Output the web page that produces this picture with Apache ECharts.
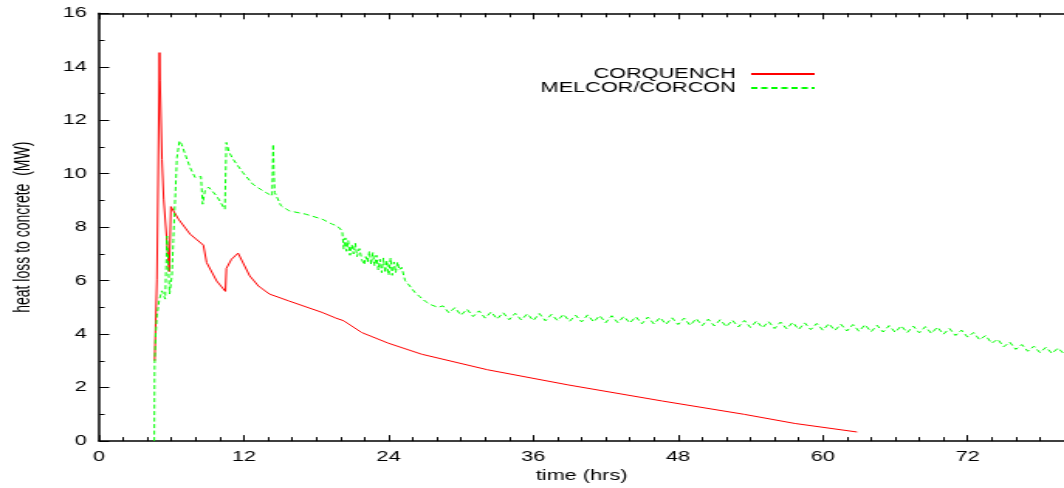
<!DOCTYPE html>
<html lang="en">
<head>
<meta charset="UTF-8">
<title>heat loss to concrete</title>
<script src="https://cdn.jsdelivr.net/npm/echarts@6/dist/echarts.min.js"></script>
<style>
    html, body { margin: 0; padding: 0; overflow: hidden; background: #fff; }
    /* the reference is a gnuplot picture stretched sideways, so draw narrow and stretch */
    #chart {
        width: 687px;
        height: 488px;
        transform: scaleX(1.5488);
        transform-origin: 0 0;
    }
</style>
</head>
<body>
<div id="chart"></div>
<script>
// time (hrs), heat loss (MW)
const corquench = [
    [4.60, 3.0], [4.79, 6.03], [4.91, 6.05], [5.01, 14.53], [5.05, 13.5], [5.21, 10.54],
    [5.35, 9.05], [5.81, 6.34], [5.95, 8.77], [6.58, 8.3], [7.54, 7.74], [8.64, 7.33],
    [8.91, 6.68], [9.74, 5.99], [10.47, 5.6], [10.55, 6.46], [10.97, 6.8], [11.52, 7.03],
    [12.48, 6.18], [13.21, 5.8], [14.12, 5.5], [15.74, 5.24], [18.50, 4.81], [19.63, 4.6],
    [20.28, 4.5], [21.77, 4.06], [23.99, 3.66], [26.74, 3.25], [32.18, 2.67], [38.9, 2.1],
    [46.68, 1.5], [53.5, 1.0], [57.68, 0.66], [62.84, 0.34]
];

const melcor = [
    [4.57, 0], [4.60, 2.9], [4.69, 4.0], [4.79, 4.68], [4.99, 5.3], [5.21, 5.62], [5.38, 5.55],
    [5.48, 5.31], [5.62, 7.67], [5.72, 6.8], [5.84, 5.5], [6.03, 6.18], [6.15, 7.5], [6.30, 9.05],
    [6.45, 10.6], [6.66, 11.23], [6.84, 11.1], [7.13, 10.73], [7.54, 10.23], [7.95, 9.86],
    [8.44, 9.9], [8.52, 9.95], [8.58, 8.86], [8.77, 9.36], [9.07, 9.5], [9.32, 9.45], [9.74, 9.17],
    [10.42, 8.67], [10.55, 11.17], [10.78, 10.8], [11.11, 10.54], [11.92, 10.04], [12.74, 9.61],
    [13.57, 9.36], [14.34, 9.17], [14.43, 11.1], [14.49, 10.0], [14.56, 9.3], [15.08, 8.8],
    [15.77, 8.61], [17.10, 8.49], [18.50, 8.3], [19.34, 8.11], [19.73, 8.05], [20.15, 7.86],
    [20.28, 7.18], [20.41, 7.6], [20.51, 7.1], [20.65, 7.5], [20.80, 6.95], [20.95, 7.35],
    [21.09, 7.0], [21.24, 7.4], [21.38, 6.9], [21.58, 7.2], [21.77, 6.8], [21.97, 6.6],
    [22.11, 6.9], [22.26, 6.7], [22.40, 7.1], [22.55, 6.6], [22.70, 7.05], [22.84, 6.55],
    [22.99, 6.95], [23.14, 6.4], [23.28, 6.8], [23.43, 6.3], [23.57, 6.85], [23.72, 6.3],
    [23.86, 6.75], [24.01, 6.2], [24.16, 6.85], [24.30, 6.2], [24.45, 6.7], [24.59, 6.3],
    [24.74, 6.7], [24.89, 6.4], [25.08, 6.5], [25.37, 6.0], [25.76, 5.8], [26.18, 5.56],
    [26.59, 5.4], [27.00, 5.24], [27.51, 5.1], [28.10, 5.0],
    [28.5, 5.06], [29.0, 4.80], [29.5, 4.99], [30.0, 4.71], [30.5, 4.93], [31.0, 4.66],
    [31.5, 4.87], [32.0, 4.60], [32.5, 4.83], [33.0, 4.57], [33.5, 4.80], [34.0, 4.54],
    [34.5, 4.78], [35.0, 4.53], [35.5, 4.76], [36.0, 4.51], [36.5, 4.77], [37.0, 4.50],
    [37.5, 4.74], [38.0, 4.51], [38.5, 4.74], [39.0, 4.48], [39.5, 4.71], [40.0, 4.46],
    [40.5, 4.72], [41.0, 4.46], [41.5, 4.69], [42.0, 4.43], [42.5, 4.69], [43.0, 4.43],
    [43.5, 4.66], [44.0, 4.42], [44.5, 4.65], [45.0, 4.39], [45.5, 4.64], [46.0, 4.38],
    [46.5, 4.62], [47.0, 4.37], [47.5, 4.61], [48.0, 4.36], [48.5, 4.60], [49.0, 4.33],
    [49.5, 4.58], [50.0, 4.32], [50.5, 4.56], [51.0, 4.31], [51.5, 4.54], [52.0, 4.28],
    [52.5, 4.52], [53.0, 4.27], [53.5, 4.51], [54.0, 4.25], [54.5, 4.49], [55.0, 4.24],
    [55.5, 4.47], [56.0, 4.21], [56.5, 4.45], [57.0, 4.20], [57.5, 4.44], [58.0, 4.18],
    [58.5, 4.42], [59.0, 4.17], [59.5, 4.40], [60.0, 4.15], [60.5, 4.39], [61.0, 4.14],
    [61.5, 4.37], [62.0, 4.12], [62.5, 4.36], [63.0, 4.11], [63.5, 4.35], [64.0, 4.09],
    [64.5, 4.33], [65.0, 4.08], [65.5, 4.32], [66.0, 4.07], [66.5, 4.31], [67.0, 4.06],
    [67.5, 4.30], [68.0, 4.05], [68.5, 4.28], [69.0, 4.03], [69.5, 4.26], [70.0, 4.00],
    [70.5, 4.21], [71.0, 3.95], [71.5, 4.15], [72.0, 3.89], [72.5, 4.06], [73.0, 3.79],
    [73.5, 3.95], [74.0, 3.66], [74.5, 3.81], [75.0, 3.53], [75.5, 3.70], [76.0, 3.43],
    [76.5, 3.61], [77.0, 3.36], [77.5, 3.55], [78.0, 3.31], [78.5, 3.51], [79.0, 3.28],
    [79.5, 3.48], [80.0, 3.26]
];

const seriesNames = ['CORQUENCH', 'MELCOR/CORCON'];
const xRange = [0, 80];
const yRange = [0, 16];

const font = 'Liberation Sans, Arial, Helvetica, sans-serif';
const black = '#000';

// major ticks + labels
function majorX(pos, labels) {
    return {
        type: 'value', position: pos, min: xRange[0], max: xRange[1], interval: 12,
        name: labels ? 'time (hrs)' : '',
        nameLocation: 'middle', nameGap: 27,
        nameTextStyle: { color: black, fontFamily: font, fontSize: 14 },
        axisLine: { show: true, lineStyle: { color: black, width: 1.5 } },
        axisTick: { show: true, inside: true, length: 6, lineStyle: { color: black, width: 1 } },
        axisLabel: { show: labels, color: black, fontFamily: font, fontSize: 14, margin: 9, showMaxLabel: false },
        splitLine: { show: false }
    };
}
// minor ticks every 2 hours, drawn by a second axis
function minorX(pos) {
    return {
        type: 'value', position: pos, min: xRange[0], max: xRange[1], interval: 2,
        axisLine: { show: false },
        axisTick: { show: true, inside: true, length: 4, lineStyle: { color: black, width: 1 } },
        axisLabel: { show: false },
        splitLine: { show: false }
    };
}

function legendRow(name, top) {
    return {
        data: [name], right: 160, top: top, padding: 0, align: 'right',
        itemWidth: 41, itemHeight: 10,
        itemStyle: { opacity: 0, borderWidth: 0 },
        textStyle: { color: black, fontFamily: font, fontSize: 14, padding: [0, 5, 0, 0] }
    };
}

let chart = echarts.init(document.getElementById('chart'));
let option = {
    animation: false,
    backgroundColor: '#fff',
    grid: { left: 63.5, right: -4.6, top: 13.3, bottom: 45.3 },
    legend: [legendRow(seriesNames[0], 67), legendRow(seriesNames[1], 81)],
    xAxis: [majorX('bottom', true), minorX('bottom'), majorX('top', false), minorX('top')],
    yAxis: {
        type: 'value', min: yRange[0], max: yRange[1], interval: 2,
        name: 'heat loss to concrete  (MW)',
        nameLocation: 'middle', nameGap: 42,
        nameTextStyle: { color: black, fontFamily: font, fontSize: 14 },
        axisLine: { show: true, lineStyle: { color: black, width: 1.5 } },
        axisTick: { show: true, inside: true, length: 6.5, lineStyle: { color: black, width: 1 } },
        minorTick: { show: true, splitNumber: 2, length: 3.5, lineStyle: { color: black, width: 1 } },
        axisLabel: { color: black, fontFamily: font, fontSize: 14, margin: 8 },
        splitLine: { show: false }
    },
    series: [
        {
            name: seriesNames[0], type: 'line', data: corquench, xAxisIndex: 0,
            symbol: 'none', showSymbol: false,
            lineStyle: { color: '#ff0000', width: 1 },
            itemStyle: { color: '#ff0000' }
        },
        {
            name: seriesNames[1], type: 'line', data: melcor, xAxisIndex: 0,
            symbol: 'none', showSymbol: false,
            lineStyle: { color: '#00ff00', width: 1, type: [4, 2.5] },
            itemStyle: { color: '#00ff00' }
        }
    ]
};
chart.setOption(option);
</script>
</body>
</html>
